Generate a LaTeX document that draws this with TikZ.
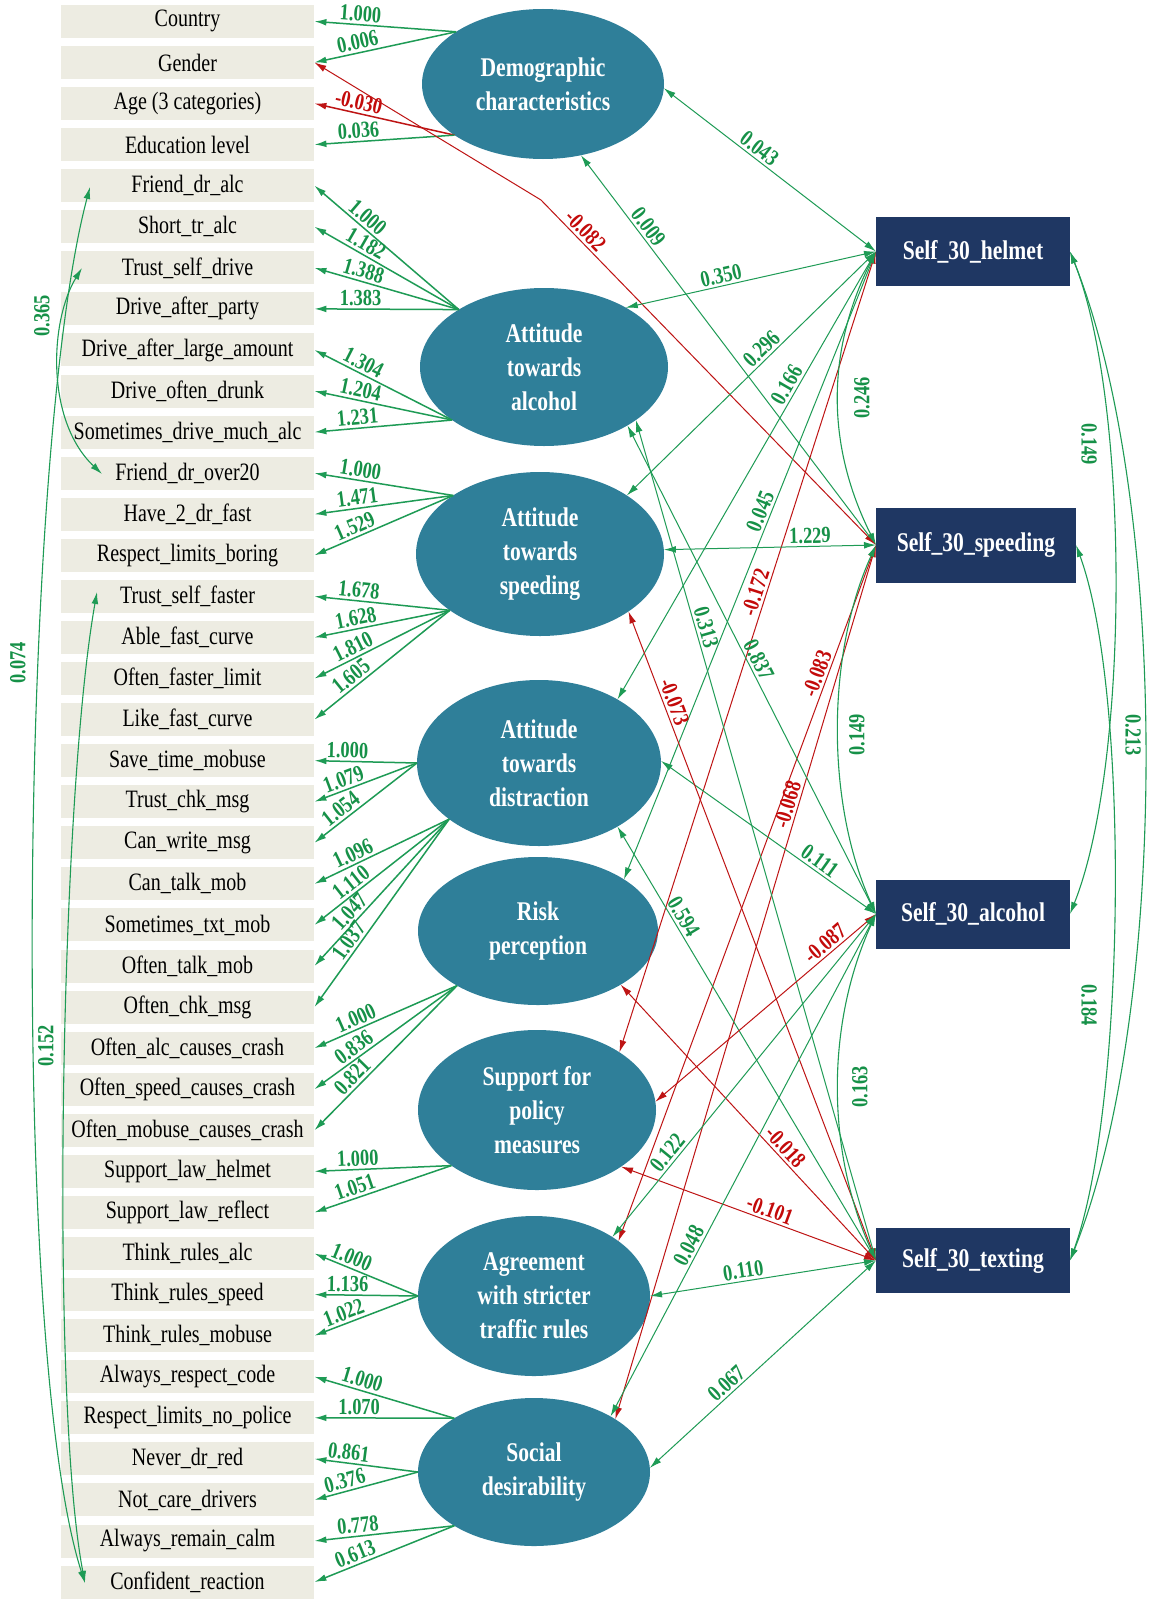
\documentclass[tikz,border=0pt]{standalone}
\usepackage{fontspec}
\setmainfont{Liberation Serif}
\usepackage{graphicx}
\usetikzlibrary{arrows.meta,shapes.geometric}
\newcommand{\sq}[1]{\scalebox{0.8}[1]{#1}}
\definecolor{obsfill}{RGB}{237,236,226}
\definecolor{latfill}{RGB}{47,127,153}
\definecolor{selffill}{RGB}{31,55,99}
\definecolor{gline}{RGB}{30,155,85}
\definecolor{gtext}{RGB}{22,145,72}
\definecolor{rline}{RGB}{190,20,20}
\definecolor{rtext}{RGB}{195,10,10}
\tikzset{
  obs/.style={fill=obsfill, minimum width=126.5pt, minimum height=16.5pt, inner sep=0pt,
    font=\fontsize{12.5}{14}\selectfont},
  lat/.style={ellipse, fill=latfill, text=white, inner sep=0pt, outer sep=0pt, align=center,
    font=\fontsize{13.5}{17}\selectfont\bfseries},
  selfbox/.style={fill=selffill, text=white, inner sep=0pt, outer sep=0pt,
    font=\fontsize{13.5}{15}\selectfont\bfseries},
  load/.style={draw=gline, line width=0.75pt, ->},
  loadr/.style={draw=rline, line width=0.75pt, ->},
  sp/.style={draw=gline, line width=0.5pt, <->},
  spr/.style={draw=rline, line width=0.5pt, <->},
  cov/.style={draw=gline, line width=0.55pt, <->},
  llab/.style={sloped, above, pos=0.68, inner sep=1.2pt, text=gtext,
    font=\fontsize{11.5}{12}\selectfont\bfseries},
  rlab/.style={llab, text=rtext},
  covlab/.style={inner sep=0pt, text=gtext, font=\fontsize{11.5}{12}\selectfont\bfseries}
}
\begin{document}
\begin{tikzpicture}[x=0.5pt,y=-0.5pt,>={Latex[length=6pt,width=3.4pt]}]
\useasboundingbox (0,0) rectangle (1152,1600);
\fill[white] (0,0) rectangle (1152,1600);

% observed indicators
\foreach \t [count=\i] in {Country,Gender,Age (3 categories),Education level,
  Friend\_dr\_alc,Short\_tr\_alc,Trust\_self\_drive,Drive\_after\_party,
  Drive\_after\_large\_amount,Drive\_often\_drunk,Sometimes\_drive\_much\_alc,
  Friend\_dr\_over20,Have\_2\_dr\_fast,Respect\_limits\_boring,Trust\_self\_faster,
  Able\_fast\_curve,Often\_faster\_limit,Like\_fast\_curve,Save\_time\_mobuse,
  Trust\_chk\_msg,Can\_write\_msg,Can\_talk\_mob,Sometimes\_txt\_mob,Often\_talk\_mob,
  Often\_chk\_msg,Often\_alc\_causes\_crash,Often\_speed\_causes\_crash,
  Often\_mobuse\_causes\_crash,Support\_law\_helmet,Support\_law\_reflect,
  Think\_rules\_alc,Think\_rules\_speed,Think\_rules\_mobuse,Always\_respect\_code,
  Respect\_limits\_no\_police,Never\_dr\_red,Not\_care\_drivers,Always\_remain\_calm,
  Confident\_reaction}
  \node[obs] (r\i) at (187.5,{21.4+41.07*(\i-1)}) {\sq{\t}};

% latent factors
\node[lat, minimum width=121pt, minimum height=75pt] (demo) at (543,84) {\sq{Demographic}\\\sq{characteristics}};
\node[lat, minimum width=124pt, minimum height=79pt] (alc) at (544,367) {\sq{Attitude}\\\sq{towards}\\\sq{alcohol}};
\node[lat, minimum width=124pt, minimum height=82pt] (spd) at (540,554) {\sq{Attitude}\\\sq{towards}\\\sq{speeding}};
\node[lat, minimum width=122pt, minimum height=83pt] (dis) at (539,763) {\sq{Attitude}\\\sq{towards}\\\sq{distraction}};
\node[lat, minimum width=120pt, minimum height=74pt] (risk) at (538,931) {\sq{Risk}\\\sq{perception}};
\node[lat, minimum width=119pt, minimum height=80pt] (sup) at (537,1110) {\sq{Support for}\\\sq{policy}\\\sq{measures}};
\node[lat, minimum width=116pt, minimum height=80pt] (agr) at (534,1296) {\sq{Agreement}\\\sq{with stricter}\\\sq{traffic rules}};
\node[lat, minimum width=116pt, minimum height=74pt] (soc) at (534,1472) {\sq{Social}\\\sq{desirability}};

% self-reported behaviours
\node[selfbox, minimum width=97pt, minimum height=34.5pt] (hel) at (973,251.5) {\sq{Self\_30\_helmet}};
\node[selfbox, minimum width=100pt, minimum height=37.5pt] (spdg) at (976,545) {\sq{Self\_30\_speeding}};
\node[selfbox, minimum width=97pt, minimum height=34.5pt] (alcb) at (973,914) {\sq{Self\_30\_alcohol}};
\node[selfbox, minimum width=97pt, minimum height=32.5pt] (txt) at (973,1260.5) {\sq{Self\_30\_texting}};

% factor loadings
\foreach \r/\v in {1/1.000,2/0.006} \draw[load] (demo.149) -- node[llab]{\sq{\v}} (r\r.east);
\draw[loadr] (demo.210) -- node[rlab,pos=0.7]{\sq{-0.030}} (r3.east);
\draw[load] (demo.210) -- node[llab]{\sq{0.036}} (r4.east);
\foreach \r/\v in {5/1.000,6/1.182,7/1.388,8/1.383} \draw[load] (alc.146.5) -- node[llab]{\sq{\v}} (r\r.east);
\foreach \r/\v in {9/1.304,10/1.204,11/1.231} \draw[load] (alc.210) -- node[llab]{\sq{\v}} (r\r.east);
\foreach \r/\v in {12/1.000,13/1.471,14/1.529} \draw[load] (spd.146.6) -- node[llab]{\sq{\v}} (r\r.east);
\foreach \r/\v in {15/1.678,16/1.628,17/1.810,18/1.605} \draw[load] (spd.212) -- node[llab]{\sq{\v}} (r\r.east);
\foreach \r/\v in {19/1.000,20/1.079,21/1.054} \draw[load] (dis.180) -- node[llab]{\sq{\v}} (r\r.east);
\foreach \r/\v in {22/1.096,23/1.110,24/1.047,25/1.037} \draw[load] (dis.212.8) -- node[llab]{\sq{\v}} (r\r.east);
\foreach \r/\v in {26/1.000,27/0.836,28/0.821} \draw[load] (risk.214) -- node[llab]{\sq{\v}} (r\r.east);
\foreach \r/\v in {29/1.000,30/1.051} \draw[load] (sup.213) -- node[llab]{\sq{\v}} (r\r.east);
\foreach \r/\v in {31/1.000,32/1.136,33/1.022} \draw[load] (agr.180) -- node[llab]{\sq{\v}} (r\r.east);
\foreach \r/\v in {34/1.000,35/1.070} \draw[load] (soc.146.6) -- node[llab]{\sq{\v}} (r\r.east);
\foreach \r/\v in {36/0.861,37/0.376} \draw[load] (soc.180) -- node[llab]{\sq{\v}} (r\r.east);
\foreach \r/\v in {38/0.778,39/0.613} \draw[load] (soc.214) -- node[llab]{\sq{\v}} (r\r.east);

% correlated indicator errors
\coordinate (c5) at (90,187);
\coordinate (c7) at (82,268);
\coordinate (c12) at (102,474);
\coordinate (c15) at (97,592);
\coordinate (c39) at (85,1583);
\draw[cov] (c7) .. controls (50,320) and (45,420) .. (c12);
\draw[cov] (c5) .. controls (20,450) and (10,1350) .. (c39);
\draw[cov] (c15) .. controls (60,800) and (50,1400) .. (c39);
\node[covlab, rotate=90] (k1) at (42,316) {\sq{0.365}};
\node[covlab, rotate=90] (k2) at (18,663) {\sq{0.074}};
\node[covlab, rotate=90] (k3) at (46,1046) {\sq{0.152}};

% paths between factors and self-reported behaviours
\draw[sp] (demo.-2) -- node[llab,pos=0.42]{\sq{0.043}} (hel.west);
\draw[sp] (demo.-62) -- node[llab,pos=0.20]{\sq{0.009}} (spdg.west);
\coordinate (gbend) at (541,200);
\draw[spr] (r2.east) -- (gbend) -- node[rlab,pos=0.11]{\sq{-0.082}} (spdg.west);
\draw[sp] (alc.36) -- node[llab,pos=0.39]{\sq{0.350}} (hel.west);
\draw[sp] (spd.34) -- node[llab,pos=0.57]{\sq{0.296}} (hel.west);
\draw[sp] (dis.39) -- node[llab,pos=0.69]{\sq{0.166}} (hel.west);
\draw[sp] (risk.31) -- node[llab,pos=0.58]{\sq{0.045}} (hel.west);
\draw[spr] (sup.35) -- node[rlab,pos=0.57]{\sq{-0.172}} (hel.west);
\draw[sp] (spd.2) -- node[llab,pos=0.69]{\sq{1.229}} (spdg.west);
\draw[spr] (agr.33) -- node[rlab,pos=0.81]{\sq{-0.083}} (spdg.west);
\draw[spr] (soc.33) -- node[rlab,pos=0.70]{\sq{-0.068}} (spdg.west);
\draw[sp] (alc.-35) -- node[llab,pos=0.49]{\sq{0.837}} (alcb.west);
\draw[sp] (alc.-30) -- node[llab,pos=0.25]{\sq{0.313}} (txt.west);
\draw[sp] (dis.1) -- node[llab,pos=0.71]{\sq{0.111}} (alcb.west);
\draw[sp] (dis.-39) -- node[llab,pos=0.22]{\sq{0.594}} (txt.west);
\draw[spr] (spd.-33) -- node[rlab,pos=0.145]{\sq{-0.073}} (txt.west);
\draw[spr] (risk.-33) -- node[rlab,pos=0.615]{\sq{-0.018}} (txt.west);
\draw[spr] (sup.-34) -- node[rlab,pos=0.57]{\sq{-0.101}} (txt.west);
\draw[sp] (agr.0) -- node[llab,pos=0.42]{\sq{0.110}} (txt.west);
\draw[sp] (soc.2) -- node[llab,pos=0.37]{\sq{0.067}} (txt.west);
\draw[spr] (sup.4) -- node[rlab,pos=0.80]{\sq{-0.087}} (alcb.west);
\draw[sp] (agr.37) -- node[llab,pos=0.24]{\sq{0.122}} (alcb.west);
\draw[sp] (soc.36) -- node[llab,pos=0.33]{\sq{0.048}} (alcb.west);

% covariances among self-reported behaviours
\draw[cov] (hel.west) .. controls +(-50,100) and +(-50,-100) .. (spdg.west);
\draw[cov] (spdg.west) .. controls +(-50,110) and +(-50,-110) .. (alcb.west);
\draw[cov] (alcb.west) .. controls +(-50,110) and +(-50,-110) .. (txt.west);
\draw[cov] (hel.east) .. controls +(60,150) and +(60,-150) .. (alcb.east);
\draw[cov] (hel.east) .. controls +(100,250) and +(100,-250) .. (txt.east);
\draw[cov] (spdg.east) .. controls +(55,150) and +(55,-150) .. (txt.east);
\node[covlab, rotate=90] (k4) at (862,398) {\sq{0.246}};
\node[covlab, rotate=90] (k5) at (857,735) {\sq{0.149}};
\node[covlab, rotate=90] (k6) at (860,1087) {\sq{0.163}};
\node[covlab, rotate=-90] (k7) at (1089,444) {\sq{0.149}};
\node[covlab, rotate=-90] (k8) at (1133,735) {\sq{0.213}};
\node[covlab, rotate=-90] (k9) at (1089,1005) {\sq{0.184}};
\end{tikzpicture}
\end{document}
